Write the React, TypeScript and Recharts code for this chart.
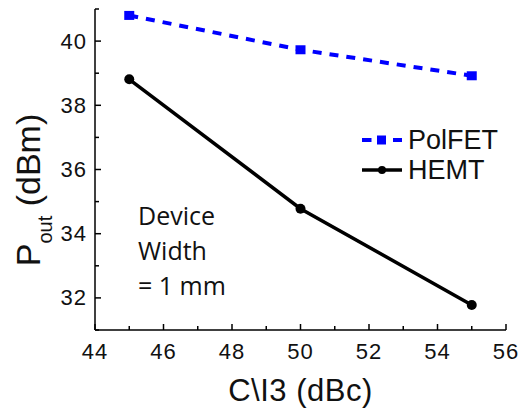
import React from 'react';
import { LineChart, Line, XAxis, YAxis, Legend } from 'recharts';

const categories = [45, 50, 55];
const polfetValues = [40.8, 39.73, 38.92];
const hemtValues = [38.81, 34.78, 31.78];
const xTicks = [44, 45, 46, 47, 48, 49, 50, 51, 52, 53, 54, 55, 56];
const yTicks = [31, 32, 33, 34, 35, 36, 37, 38, 39, 40, 41];
const xMajorTicks = [44, 46, 48, 50, 52, 54, 56];
const yMajorTicks = [32, 34, 36, 38, 40];
const seriesNames = ['PolFET', 'HEMT'];
const xLabel = 'C\\I3 (dBc)';
const annotationLines = ['Device', 'Width', '= 1 mm'];

const data = categories.map((c, i) => ({ x: c, polfet: polfetValues[i], hemt: hemtValues[i] }));

const FONT = '"Liberation Sans", Arial, Helvetica, sans-serif';
const BLUE = '#0000ff';
const TEXT = '#111';

function AxisTick(props: any) {
  const { x, y, payload, orient } = props;
  const v = payload.value;
  const isMajor = orient === 'left' || orient === 'right' ? yMajorTicks.includes(v) : xMajorTicks.includes(v);
  const len = isMajor ? 6 : 4;
  let line: any = null;
  let label: any = null;
  if (orient === 'left') {
    line = <line x1={x} y1={y} x2={x + len} y2={y} stroke="#000" strokeWidth={1.5} />;
    if (isMajor)
      label = (
        <text x={x - 8} y={y} textAnchor="end" dominantBaseline="central" fontFamily={FONT} fontSize={22} letterSpacing={1} fill={TEXT}>
          {v}
        </text>
      );
  } else if (orient === 'right') {
    line = <line x1={x} y1={y} x2={x - len} y2={y} stroke="#000" strokeWidth={1.5} />;
  } else if (orient === 'bottom') {
    line = <line x1={x} y1={y} x2={x} y2={y - len} stroke="#000" strokeWidth={1.5} />;
    if (isMajor)
      label = (
        <text x={x} y={y + 21} textAnchor="middle" dominantBaseline="central" fontFamily={FONT} fontSize={22} letterSpacing={1} fill={TEXT}>
          {v}
        </text>
      );
  } else {
    line = <line x1={x} y1={y} x2={x} y2={y + len} stroke="#000" strokeWidth={1.5} />;
  }
  return (
    <g>
      {line}
      {label}
    </g>
  );
}

const SquareDot = (props: any) => {
  const { cx, cy, index } = props;
  return <rect key={`sq-${index}`} x={cx - 5} y={cy - 4.5} width={10} height={9} fill={BLUE} />;
};

const CircleDot = (props: any) => {
  const { cx, cy, index } = props;
  return <circle key={`ci-${index}`} cx={cx} cy={cy} r={5} fill="#000" />;
};

const LegendContent = () => (
  <div style={{ fontFamily: FONT, fontSize: 27, color: TEXT, lineHeight: '30px' }}>
    <div style={{ display: 'flex', alignItems: 'center', height: 30 }}>
      <svg width={40} height={30} style={{ display: 'block' }}>
        <line x1={0} y1={15} x2={9.5} y2={15} stroke={BLUE} strokeWidth={4} />
        <rect x={15} y={10.5} width={9} height={9} fill={BLUE} />
        <line x1={31} y1={15} x2={40} y2={15} stroke={BLUE} strokeWidth={4} />
      </svg>
      <span style={{ marginLeft: 6 }}>{seriesNames[0]}</span>
    </div>
    <div style={{ display: 'flex', alignItems: 'center', height: 30 }}>
      <svg width={40} height={30} style={{ display: 'block' }}>
        <line x1={0} y1={15} x2={40} y2={15} stroke="#000" strokeWidth={3.5} />
        <circle cx={20} cy={15} r={4} fill="#000" />
      </svg>
      <span style={{ marginLeft: 6 }}>{seriesNames[1]}</span>
    </div>
  </div>
);

const YLabel = () => (
  <text
    x={40}
    y={190}
    transform="rotate(-90, 40, 190)"
    textAnchor="middle"
    fontFamily={FONT}
    fontSize={34}
    fill={TEXT}
  >
    P
    <tspan fontSize={20} dy={12}>out</tspan>
    <tspan fontSize={34} dy={-12}> (dBm)</tspan>
  </text>
);

const XLabel = (props: any) => {
  const vb = props.viewBox || {};
  const cx = vb.x + vb.width / 2;
  return (
    <text x={cx} y={vb.y + 60} textAnchor="middle" dominantBaseline="central" fontFamily={FONT} fontSize={31} letterSpacing={0.5} fill={TEXT}>
      {xLabel}
    </text>
  );
};

export default function App() {
  return (
    <div style={{ position: 'absolute', left: 0, top: 0, width: 530, height: 408, background: '#fff' }}>
      <LineChart width={530} height={408} data={data} margin={{ top: 9, right: 24, bottom: 0, left: 0 }}>
        <XAxis
          dataKey="x"
          type="number"
          domain={[44, 56]}
          ticks={xTicks}
          interval={0}
          allowDataOverflow
          height={78}
          tickSize={0}
          tickMargin={0}
          tickLine={false}
          axisLine={{ stroke: '#000', strokeWidth: 1.5 }}
          tick={(p: any) => <AxisTick {...p} orient="bottom" />}
          label={<XLabel />}
        />
        <XAxis
          xAxisId="top"
          orientation="top"
          dataKey="x"
          type="number"
          domain={[44, 56]}
          ticks={xTicks}
          interval={0}
          allowDataOverflow
          height={0}
          tickSize={0}
          tickMargin={0}
          tickLine={false}
          axisLine={{ stroke: '#000', strokeWidth: 1.5 }}
          tick={(p: any) => <AxisTick {...p} orient="top" />}
        />
        <YAxis
          type="number"
          domain={[31, 41]}
          ticks={yTicks}
          interval={0}
          allowDataOverflow
          width={95}
          tickSize={0}
          tickMargin={0}
          tickLine={false}
          axisLine={{ stroke: '#000', strokeWidth: 1.5 }}
          tick={(p: any) => <AxisTick {...p} orient="left" />}
          label={<YLabel />}
        />
        <YAxis
          yAxisId="right"
          orientation="right"
          type="number"
          domain={[31, 41]}
          ticks={yTicks}
          interval={0}
          allowDataOverflow
          width={0}
          tickSize={0}
          tickMargin={0}
          tickLine={false}
          axisLine={{ stroke: '#000', strokeWidth: 1.5 }}
          tick={(p: any) => <AxisTick {...p} orient="right" />}
        />
        <Legend
          layout="vertical"
          align="center"
          verticalAlign="middle"
          content={<LegendContent />}
          wrapperStyle={{ position: 'absolute', left: 362, top: 125, width: 168, height: 60 }}
        />
        <Line
          type="linear"
          dataKey="polfet"
          name={seriesNames[0]}
          stroke={BLUE}
          strokeWidth={4}
          strokeDasharray="9 8"
          dot={SquareDot}
          activeDot={false}
          isAnimationActive={false}
        />
        <Line
          type="linear"
          dataKey="hemt"
          name={seriesNames[1]}
          stroke="#000"
          strokeWidth={3.5}
          dot={CircleDot}
          activeDot={false}
          isAnimationActive={false}
        />
      </LineChart>
      <div
        style={{
          position: 'absolute',
          left: 138,
          top: 198,
          fontFamily: '"Open Sans", "Noto Sans", sans-serif',
          fontSize: 25,
          lineHeight: '35px',
          color: TEXT,
          pointerEvents: 'none',
        }}
      >
        {annotationLines.map((t) => (
          <div key={t} style={{ whiteSpace: 'pre' }}>{t}</div>
        ))}
      </div>
    </div>
  );
}
